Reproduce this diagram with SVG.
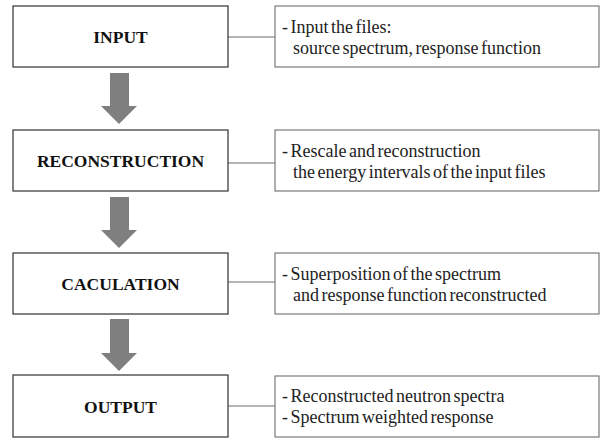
<svg xmlns="http://www.w3.org/2000/svg" width="600" height="439" viewBox="0 0 600 439">
<style>
.box{fill:#fff;stroke:#404040;stroke-width:1.3}
.dbox{fill:#fff;stroke:#6e6e6e;stroke-width:1.1}
.lbl{font-family:"Liberation Serif","Times New Roman",serif;font-weight:bold;font-size:17.5px;fill:#111;text-anchor:middle}
.desc{font-family:"Liberation Serif","Times New Roman",serif;font-size:18px;word-spacing:-2px;fill:#222}
.conn{stroke:#6e6e6e;stroke-width:1.1;fill:none}
.arr{fill:#7f7f7f}
</style>
<rect width="600" height="439" fill="#fff"/>
<g id="connectors">
<line class="conn" x1="228" y1="37" x2="275" y2="37"/>
<line class="conn" x1="228" y1="163" x2="275" y2="163"/>
<line class="conn" x1="228" y1="282" x2="275" y2="282"/>
<line class="conn" x1="228" y1="406" x2="275" y2="406"/>
<polygon class="arr" points="110,73 129,73 129,106 137,106 119,124 101,106 110,106"/>
<polygon class="arr" points="110,197 129,197 129,230 137,230 119,248 101,230 110,230"/>
<polygon class="arr" points="110,319 129,319 129,353 137,353 119,371 101,353 110,353"/>
</g>
<g id="input">
<rect class="box" x="13" y="6" width="215" height="61"/>
<text class="lbl" x="120.5" y="43">INPUT</text>
</g>
<g id="input-desc">
<rect class="dbox" x="275" y="6" width="324" height="61"/>
<text class="desc" x="282" y="33">- Input the files:</text>
<text class="desc" x="293" y="54">source spectrum, response function</text>
</g>
<g id="reconstruction">
<rect class="box" x="13" y="130" width="215" height="61"/>
<text class="lbl" x="120.5" y="167">RECONSTRUCTION</text>
</g>
<g id="reconstruction-desc">
<rect class="dbox" x="275" y="130" width="324" height="61"/>
<text class="desc" x="282" y="157">- Rescale and reconstruction</text>
<text class="desc" x="293" y="178">the energy intervals of the input files</text>
</g>
<g id="calculation">
<rect class="box" x="13" y="253" width="215" height="61"/>
<text class="lbl" x="120.5" y="290">CACULATION</text>
</g>
<g id="calculation-desc">
<rect class="dbox" x="275" y="253" width="324" height="61"/>
<text class="desc" x="282" y="280">- Superposition of the spectrum</text>
<text class="desc" x="293" y="301">and response function reconstructed</text>
</g>
<g id="output">
<rect class="box" x="13" y="375" width="215" height="62"/>
<text class="lbl" x="120.5" y="413">OUTPUT</text>
</g>
<g id="output-desc">
<rect class="dbox" x="275" y="376" width="324" height="61"/>
<text class="desc" x="282" y="402">- Reconstructed neutron spectra</text>
<text class="desc" x="282" y="423">- Spectrum weighted response</text>
</g>
</svg>
